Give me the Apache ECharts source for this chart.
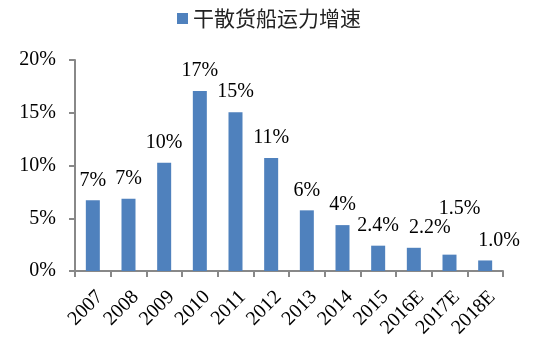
<!DOCTYPE html>
<html>
<head>
<meta charset="utf-8">
<script src="https://cdn.jsdelivr.net/npm/echarts@6/dist/echarts.min.js"></script>
<style>html,body{margin:0;padding:0;background:#fff}#c{width:552px;height:356px}</style>
</head>
<body>
<div id="c"></div>
<script>
var categories = ['2007','2008','2009','2010','2011','2012','2013','2014','2015','2016E','2017E','2018E'];
var values = [6.7, 6.85, 10.25, 17.05, 15.05, 10.7, 5.75, 4.35, 2.4, 2.2, 1.55, 1.0];
var valueLabels = ['7%','7%','10%','17%','15%','11%','6%','4%','2.4%','2.2%','1.5%','1.0%'];
var yTicks = [0, 5, 10, 15, 20];
var seriesName = '干散货船运力增速';

var serif = '"Liberation Serif", "Times New Roman", serif';
// label nudges (style only), matching the reference placement
var labelNudge = { 9: [16, 0], 10: [10, -26], 11: [14, 0] };
var barData = values.map(function (v, i) {
  var item = { value: v };
  if (labelNudge[i]) item.label = { offset: labelNudge[i] };
  return item;
});

var chart = echarts.init(document.getElementById('c'));
chart.setOption({
  animation: false,
  legend: {
    top: 3, left: 172,
    itemWidth: 11, itemHeight: 11, itemGap: 10,
    icon: 'rect',
    textStyle: { fontFamily: '"Noto Sans CJK SC"', fontSize: 21, color: '#222' },
    data: [seriesName]
  },
  grid: { left: 75, right: 49, top: 60, bottom: 85 },
  xAxis: {
    type: 'category',
    data: categories,
    axisLine: { lineStyle: { color: '#888', width: 2 } },
    axisTick: { show: true, length: 6, lineStyle: { color: '#888', width: 2 } },
    axisLabel: { rotate: 45, margin: 16, verticalAlign: 'top', interval: 0, fontFamily: serif, fontSize: 20, color: '#000' }
  },
  yAxis: {
    type: 'value',
    min: yTicks[0], max: yTicks[yTicks.length - 1], interval: 5,
    splitLine: { show: false },
    axisLine: { show: true, lineStyle: { color: '#888', width: 2 } },
    axisTick: { show: true, length: 6, lineStyle: { color: '#888', width: 2 } },
    axisLabel: { margin: 19, fontFamily: serif, fontSize: 20, color: '#000', formatter: function (v) { return v + '%'; } }
  },
  series: [{
    name: seriesName,
    type: 'bar',
    data: barData,
    barWidth: 14,
    itemStyle: { color: '#4F81BD' },
    label: {
      show: true, position: 'top', distance: 10,
      fontFamily: serif, fontSize: 20, color: '#000',
      formatter: function (p) { return valueLabels[p.dataIndex]; }
    }
  }]
});
</script>
</body>
</html>
